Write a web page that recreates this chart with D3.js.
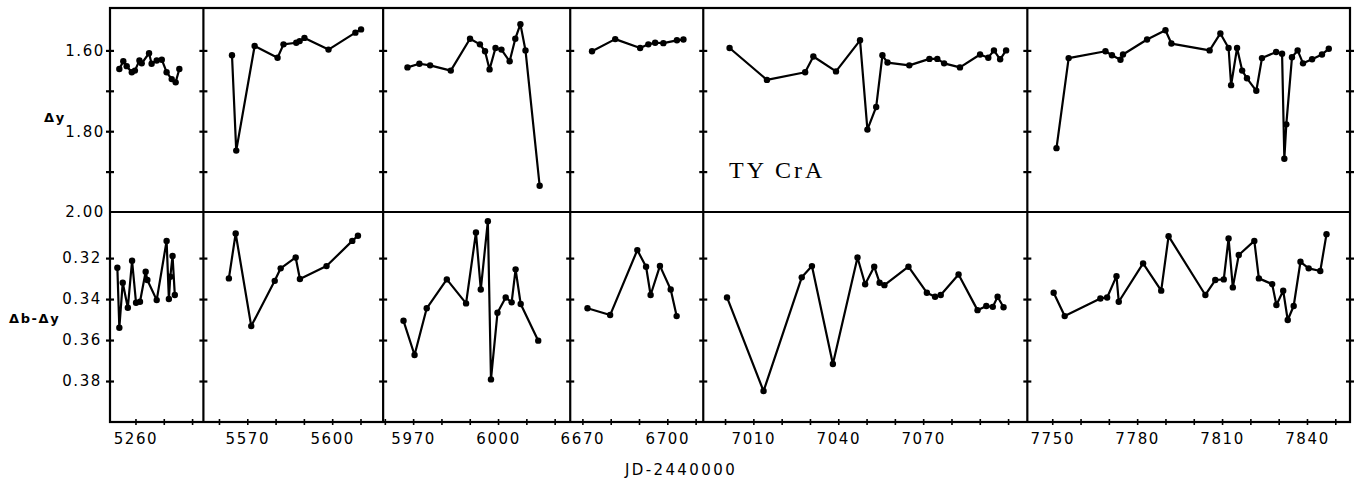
<!DOCTYPE html>
<html>

<head>
    <meta charset="utf-8">
    <style>
        body {
            margin: 0;
            background: white;
        }

        svg {
            font-family: 'DejaVu Sans', sans-serif;
        }

        .tick-label {
            font-size: 15px;
            letter-spacing: 1.6px;
        }

        .panel-line {
            fill: none;
            stroke: black;
            stroke-width: 2.2;
            stroke-linejoin: round;
        }
    </style>
</head>

<body>
    <svg width="1362" height="481"></svg>
</body>

<script src="https://d3js.org/d3.v7.min.js"></script>

<script>
    // JD-2440000 range of each of the six time windows
    let panelStart = [5251, 5554.5, 5959.4, 6665.7, 6992.3, 7741.2];
    let panelEnd = [5284, 5618, 6025.5, 6712.7, 7106.8, 7855.2];

    // labelled days under each window
    let dayLabels = [[5260], [5570, 5600], [5970, 6000], [6670, 6700], [7010, 7040, 7070], [7750, 7780, 7810, 7840]];

    // y-axis ticks
    let yTicks = [1.60, 1.70, 1.80, 1.90];
    let yLabels = [1.60, 1.80, 2.00];
    let cTicks = [0.32, 0.34, 0.36, 0.38];
    let cLabels = [0.32, 0.34, 0.36, 0.38];

    // delta y  [day, mag]
    let y1 = [[5254.3, 1.646], [5255.7, 1.627], [5256.9, 1.639], [5258.7, 1.654], [5259.8, 1.650], [5261.4, 1.625], [5262.2, 1.632], [5264.8, 1.607], [5265.7, 1.633], [5267.5, 1.625], [5269.3, 1.623], [5271.0, 1.654], [5272.8, 1.671], [5274.2, 1.679], [5275.5, 1.646]];
    let y2 = [[5564.6, 1.612], [5566.1, 1.848], [5572.6, 1.589], [5580.7, 1.618], [5582.8, 1.585], [5587.3, 1.581], [5588.5, 1.577], [5590.2, 1.569], [5598.7, 1.598], [5608.2, 1.556], [5610.2, 1.548]];
    let y3 = [[5968.0, 1.642], [5972.2, 1.633], [5976.0, 1.637], [5983.3, 1.650], [5990.1, 1.571], [5993.6, 1.585], [5995.4, 1.602], [5997.0, 1.647], [5999.1, 1.594], [6001.2, 1.598], [6004.1, 1.627], [6006.1, 1.571], [6007.9, 1.535], [6009.7, 1.600], [6014.7, 1.935]];
    let y4 = [[6673.4, 1.602], [6681.6, 1.572], [6690.4, 1.594], [6693.3, 1.585], [6695.7, 1.581], [6698.6, 1.582], [6703.4, 1.575], [6705.7, 1.573]];
    let y5 = [[7001.6, 1.594], [7014.8, 1.673], [7028.3, 1.654], [7031.2, 1.615], [7039.2, 1.652], [7047.7, 1.575], [7050.3, 1.796], [7053.4, 1.740], [7055.6, 1.612], [7057.4, 1.630], [7065.1, 1.637], [7072.2, 1.621], [7075.0, 1.621], [7077.4, 1.632], [7083.0, 1.642], [7090.1, 1.610], [7093.0, 1.618], [7095.0, 1.600], [7097.2, 1.622], [7099.3, 1.600]];
    let y6 = [[7751.5, 1.842], [7755.8, 1.619], [7768.8, 1.602], [7771.1, 1.612], [7774.1, 1.623], [7775.0, 1.610], [7783.5, 1.573], [7790.0, 1.550], [7792.1, 1.583], [7805.6, 1.600], [7809.4, 1.558], [7812.3, 1.594], [7813.2, 1.686], [7815.3, 1.594], [7817.1, 1.650], [7818.8, 1.669], [7822.1, 1.700], [7824.1, 1.619], [7829.1, 1.604], [7831.2, 1.608], [7832.0, 1.868], [7832.7, 1.783], [7834.7, 1.617], [7836.7, 1.600], [7838.6, 1.632], [7841.8, 1.622], [7845.3, 1.610], [7847.7, 1.596]];

    // delta b - delta y  [day, colour]
    let c1 = [[5253.6, 0.3247], [5254.3, 0.3540], [5255.5, 0.3320], [5257.3, 0.3442], [5258.8, 0.3213], [5260.2, 0.3418], [5261.6, 0.3413], [5263.6, 0.3267], [5264.2, 0.3307], [5267.5, 0.3405], [5271.0, 0.3116], [5271.8, 0.3400], [5272.3, 0.3291], [5273.1, 0.3190], [5273.9, 0.3380]];
    let c2 = [[5563.5, 0.3299], [5565.9, 0.3080], [5571.4, 0.3532], [5579.7, 0.3311], [5581.8, 0.3250], [5587.1, 0.3197], [5588.6, 0.3302], [5598.0, 0.3239], [5607.1, 0.3116], [5609.1, 0.3091]];
    let c3 = [[5966.6, 0.3506], [5970.5, 0.3673], [5974.8, 0.3445], [5981.9, 0.3304], [5988.7, 0.3421], [5992.2, 0.3075], [5993.9, 0.3353], [5996.4, 0.3020], [5997.5, 0.3792], [5999.8, 0.3467], [6002.7, 0.3392], [6004.8, 0.3416], [6006.2, 0.3255], [6008.0, 0.3424], [6014.2, 0.3603]];
    let c4 = [[6671.8, 0.3445], [6679.8, 0.3478], [6689.4, 0.3161], [6692.5, 0.3242], [6694.1, 0.3380], [6697.4, 0.3238], [6701.2, 0.3353], [6703.3, 0.3483]];
    let c5 = [[7000.7, 0.3392], [7013.6, 0.3849], [7027.1, 0.3294], [7030.7, 0.3239], [7038.1, 0.3717], [7046.8, 0.3197], [7049.5, 0.3328], [7052.7, 0.3242], [7054.6, 0.3320], [7056.3, 0.3332], [7064.8, 0.3242], [7071.3, 0.3369], [7074.2, 0.3389], [7076.2, 0.3380], [7082.5, 0.3280], [7089.2, 0.3454], [7092.3, 0.3434], [7094.6, 0.3438], [7096.3, 0.3389], [7098.4, 0.3440]];
    let c6 = [[7750.5, 0.3369], [7754.4, 0.3483], [7767.0, 0.3397], [7769.4, 0.3392], [7772.7, 0.3288], [7773.5, 0.3413], [7782.1, 0.3226], [7788.5, 0.3359], [7791.1, 0.3093], [7804.1, 0.3380], [7807.6, 0.3307], [7810.6, 0.3304], [7812.3, 0.3104], [7813.8, 0.3343], [7815.9, 0.3185], [7821.4, 0.3116], [7823.0, 0.3299], [7827.7, 0.3327], [7829.2, 0.3429], [7831.6, 0.3359], [7833.2, 0.3502], [7835.3, 0.3434], [7837.7, 0.3218], [7840.6, 0.3250], [7844.7, 0.3263], [7846.9, 0.3083]];

    let ySeries = [y1, y2, y3, y4, y5, y6];
    let cSeries = [c1, c2, c3, c4, c5, c6];

    let svg = d3.select("svg");

    let plotLeft = 110, plotRight = 1350;
    let plotTop = 8, plotMid = 212, plotBottom = 422;

    let yScale = d3.scaleLinear().domain([1.495, 2.00]).range([plotTop, plotMid]);
    let cScale = d3.scaleLinear().domain([0.2975, 0.40]).range([plotMid, plotBottom]);

    // all windows share the same days-per-pixel
    let totalDays = d3.sum(panelStart, (d, i) => panelEnd[i] - d);
    let pxPerDay = (plotRight - plotLeft) / totalDays;

    let edges = [plotLeft];
    panelStart.forEach((d, i) => {
        edges.push(edges[i] + (panelEnd[i] - d) * pxPerDay);
    });

    let xScales = panelStart.map((d, i) =>
        d3.scaleLinear().domain([d, panelEnd[i]]).range([edges[i], edges[i + 1]])
    );

    // FRAME -------
    let frame = svg.append("g")
        .style("stroke", "black")
        .style("stroke-width", 2.2);

    frame.append("rect")
        .attr("x", plotLeft)
        .attr("y", plotTop)
        .attr("width", plotRight - plotLeft)
        .attr("height", plotBottom - plotTop)
        .style("fill", "none");

    frame.append("line")
        .attr("x1", plotLeft).attr("x2", plotRight)
        .attr("y1", plotMid).attr("y2", plotMid);

    frame.selectAll(".sep")
        .data(edges.slice(1, -1))
        .join("line")
        .attr("class", "sep")
        .attr("x1", d => d).attr("x2", d => d)
        .attr("y1", plotTop).attr("y2", plotBottom);

    // cross ticks on every vertical edge
    edges.forEach(e => {
        svg.append("g")
            .attr("transform", `translate(${e + 4},0)`)
            .call(d3.axisLeft(yScale).tickValues(yTicks).tickSize(8).tickFormat(""))
            .call(g => g.select(".domain").remove())
            .selectAll("line").style("stroke-width", 2.2);

        svg.append("g")
            .attr("transform", `translate(${e + 4},0)`)
            .call(d3.axisLeft(cScale).tickValues(cTicks).tickSize(8).tickFormat(""))
            .call(g => g.select(".domain").remove())
            .selectAll("line").style("stroke-width", 2.2);
    });

    // y labels
    svg.selectAll(".ylab")
        .data(yLabels)
        .join("text")
        .attr("class", "tick-label")
        .attr("x", plotLeft - 5)
        .attr("y", d => yScale(d))
        .attr("dy", "0.36em")
        .attr("text-anchor", "end")
        .text(d => d3.format(".2f")(d));

    svg.selectAll(".clab")
        .data(cLabels)
        .join("text")
        .attr("class", "tick-label")
        .attr("x", plotLeft - 8)
        .attr("y", d => cScale(d))
        .attr("dy", "0.36em")
        .attr("text-anchor", "end")
        .text(d => d3.format(".2f")(d));

    svg.append("text")
        .attr("class", "tick-label")
        .attr("x", 44)
        .attr("y", 122)
        .style("font-size", "13px")
        .style("font-weight", "bold")
        .text("Δy");

    svg.append("text")
        .attr("class", "tick-label")
        .attr("x", 9)
        .attr("y", 323)
        .style("font-size", "13px")
        .style("font-weight", "bold")
        .text("Δb-Δy");

    // X AXES -------
    xScales.forEach((x, i) => {
        let d0 = Math.ceil(panelStart[i] / 10) * 10;
        svg.append("g")
            .attr("transform", `translate(0,${plotBottom - 3})`)
            .call(d3.axisBottom(x).tickValues(d3.range(d0, panelEnd[i], 10)).tickSize(6).tickFormat(""))
            .call(g => g.select(".domain").remove())
            .selectAll("line").style("stroke-width", 1.6);

        svg.append("g")
            .attr("transform", `translate(0,${plotBottom})`)
            .call(d3.axisBottom(x).tickValues(dayLabels[i]).tickSize(0).tickPadding(11).tickFormat(d3.format("d")))
            .call(g => g.select(".domain").remove())
            .selectAll("text")
            .attr("class", "tick-label")
            .style("font-family", "'DejaVu Sans', sans-serif")
            .style("font-size", "15px")
            .attr("fill", "black");
    });

    svg.append("text")
        .attr("class", "tick-label")
        .attr("x", 681)
        .attr("y", 475)
        .attr("text-anchor", "middle")
        .style("letter-spacing", "2.4px")
        .text("JD-2440000");

    svg.append("text")
        .attr("x", 729)
        .attr("y", 178)
        .style("font-family", "'Liberation Serif', serif")
        .style("font-size", "24px")
        .style("letter-spacing", "3px")
        .text("TY CrA");

    // DATA -------
    function drawSeries(data, x, y) {
        let line = d3.line()
            .x(d => x(d[0]))
            .y(d => y(d[1]));

        svg.append("path")
            .datum(data)
            .attr("class", "panel-line")
            .attr("d", line);

        svg.append("g")
            .selectAll("circle")
            .data(data)
            .join("circle")
            .attr("cx", d => x(d[0]))
            .attr("cy", d => y(d[1]))
            .attr("r", 3.2)
            .style("fill", "black");
    }

    xScales.forEach((x, i) => {
        drawSeries(ySeries[i], x, yScale);
        drawSeries(cSeries[i], x, cScale);
    });
</script>

</html>
